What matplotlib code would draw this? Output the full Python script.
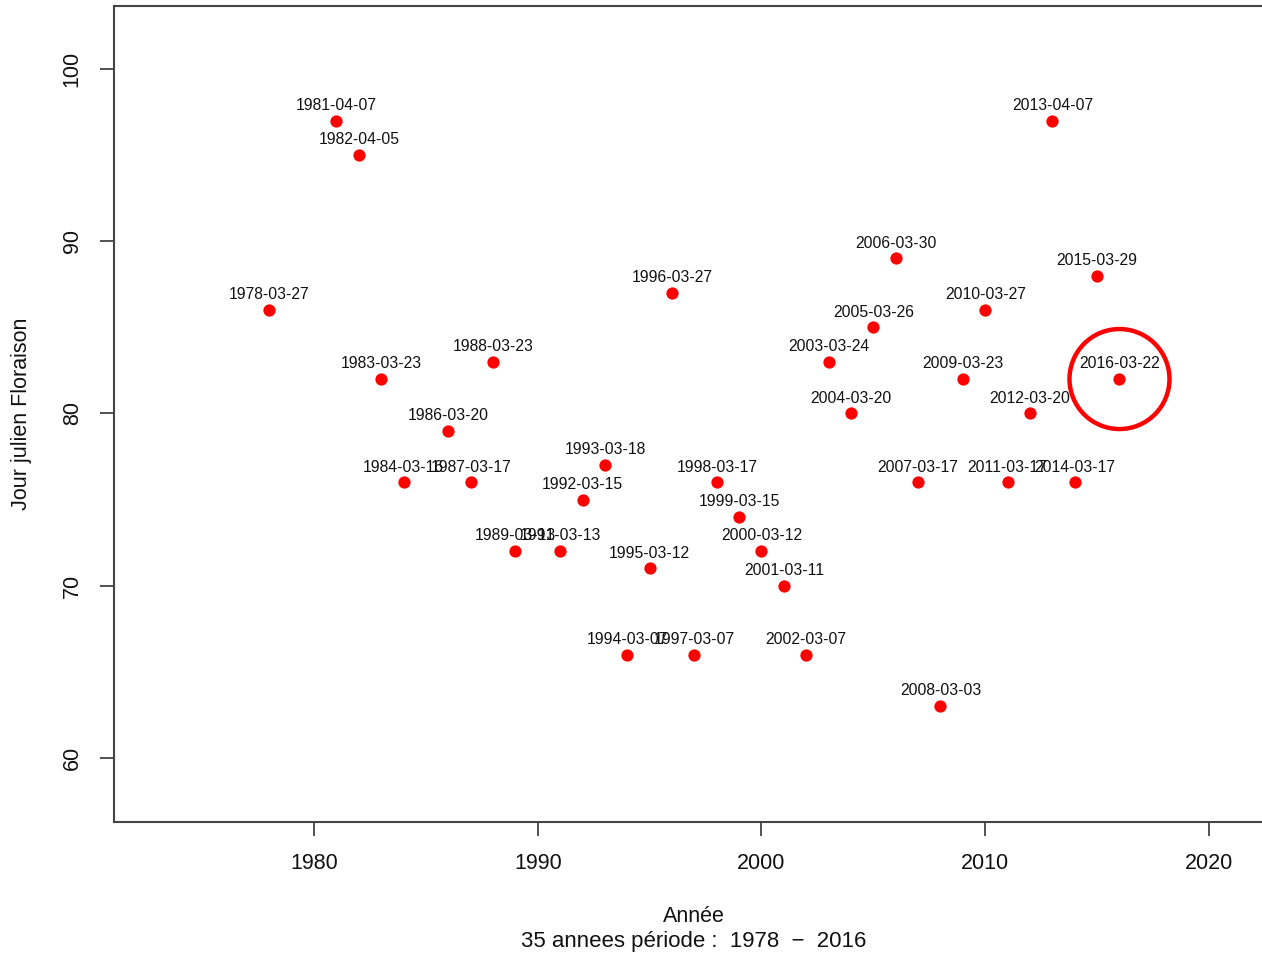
import matplotlib
matplotlib.use("Agg")
import matplotlib.pyplot as plt

plt.rcParams['font.family'] = ['Liberation Sans', 'DejaVu Sans']

years = [1978, 1981, 1982, 1983, 1984, 1986, 1987, 1988, 1989, 1991, 1992, 1993,
         1994, 1995, 1996, 1997, 1998, 1999, 2000, 2001, 2002, 2003, 2004, 2005,
         2006, 2007, 2008, 2009, 2010, 2011, 2012, 2013, 2014, 2015, 2016]
jours = [86, 97, 95, 82, 76, 79, 76, 83, 72, 72, 75, 77,
         66, 71, 87, 66, 76, 74, 72, 70, 66, 83, 80, 85,
         89, 76, 63, 82, 86, 76, 80, 97, 76, 88, 82]
dates = ["1978-03-27", "1981-04-07", "1982-04-05", "1983-03-23", "1984-03-16",
         "1986-03-20", "1987-03-17", "1988-03-23", "1989-03-13", "1991-03-13",
         "1992-03-15", "1993-03-18", "1994-03-07", "1995-03-12", "1996-03-27",
         "1997-03-07", "1998-03-17", "1999-03-15", "2000-03-12", "2001-03-11",
         "2002-03-07", "2003-03-24", "2004-03-20", "2005-03-26", "2006-03-30",
         "2007-03-17", "2008-03-03", "2009-03-23", "2010-03-27", "2011-03-17",
         "2012-03-20", "2013-04-07", "2014-03-17", "2015-03-29", "2016-03-22"]
highlight_year = 2016
highlight_day = 82
xticks = [1980, 1990, 2000, 2010, 2020]
yticks = [60, 70, 80, 90, 100]

W, H = 1262, 955
fig = plt.figure(figsize=(W / 100, H / 100), dpi=100)
ax = fig.add_axes([114 / W, 1 - 822 / H, 1 - 114 / W, (822 - 6) / H])
ax.set_xlim(1971.06, 2022.37)
ax.set_ylim(56.28, 103.66)

ax.scatter(years, jours, s=78, color='#ff0000', zorder=3, linewidths=0)
for x, y, d in zip(years, jours, dates):
    ax.annotate(d, (x, y), xytext=(0, 11.0), textcoords='offset points',
                ha='center', va='center', fontsize=11.3, color='#111111')

ax.scatter([highlight_year], [highlight_day], s=72 ** 2, facecolors='none',
           edgecolors='#ff0000', linewidths=3.2, zorder=4)

for side in ['left', 'bottom', 'top']:
    ax.spines[side].set_color('#444444')
    ax.spines[side].set_linewidth(1.5)
ax.spines['right'].set_visible(False)

ax.set_xticks(xticks)
ax.set_yticks(yticks)
ax.tick_params(axis='both', length=10, width=1.3, color='#444444',
               labelsize=15.5, pad=12.5, labelcolor='#111111')
ax.set_yticklabels([str(v) for v in yticks], rotation=90, va='center')

fig.text(694 / W, 1 - 916 / H, "Année", ha='center', va='center', fontsize=15.5,
         color='#111111')
fig.text(694 / W, 1 - 941 / H, "35 annees période :  1978  \u2212  2016", ha='center',
         va='center', fontsize=16, color='#111111')
fig.text(22 / W, 1 - 414 / H, "Jour julien Floraison", ha='center', va='center',
         rotation=90, fontsize=15.5, color='#111111')

fig.savefig("out.png", dpi=100)
